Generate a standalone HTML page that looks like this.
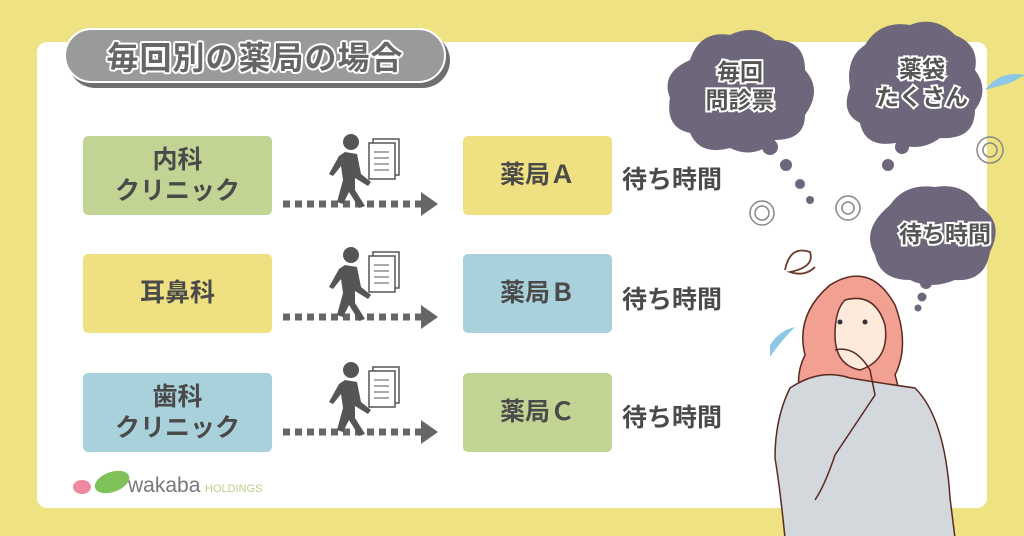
<!DOCTYPE html>
<html><head><meta charset="utf-8"><style>
*{margin:0;padding:0;box-sizing:border-box}
body{width:1024px;height:536px;background:#eee282;position:relative;overflow:hidden;font-family:"Liberation Sans","Noto Sans CJK JP",sans-serif}
.panel{position:absolute;left:37px;top:42px;width:950px;height:466px;background:#fff;border-radius:10px}
.box{position:absolute;border-radius:5px;display:flex;align-items:center;justify-content:center;text-align:center;font-weight:bold;color:#4a4a4a;font-size:25px;line-height:31px}
.g{background:#c2d494}.y{background:#efe182}.b{background:#a9d1dc}
.wt{position:absolute;left:622px;font-size:25px;font-weight:bold;color:#4a4a4a}
.title{position:absolute;left:64px;top:28px;width:382px;height:55px;background:#9a9a9a;border:2px solid #fff;border-radius:28px;box-shadow:4px 5px 0 #6f6f6f;display:flex;align-items:center;justify-content:center;font-size:32px;font-weight:bold;color:#666;letter-spacing:1px;text-shadow:2px 0 #fff,-2px 0 #fff,0 2px #fff,0 -2px #fff,1.5px 1.5px #fff,-1.5px -1.5px #fff,1.5px -1.5px #fff,-1.5px 1.5px #fff}
.ct{font-weight:bold;fill:#555;stroke:#fff;stroke-width:4;paint-order:stroke;font-family:"Liberation Sans","Noto Sans CJK JP",sans-serif}
</style></head><body>
<div class="panel"></div>
<div class="title">毎回別の薬局の場合</div>

<div class="box g" style="left:83px;top:136px;width:189px;height:79px">内科<br>クリニック</div>
<div class="box y" style="left:83px;top:254px;width:189px;height:79px">耳鼻科</div>
<div class="box b" style="left:83px;top:373px;width:189px;height:79px">歯科<br>クリニック</div>
<div class="box y" style="left:463px;top:136px;width:149px;height:79px">薬局Ａ</div>
<div class="box b" style="left:463px;top:254px;width:149px;height:79px">薬局Ｂ</div>
<div class="box g" style="left:463px;top:373px;width:149px;height:79px">薬局Ｃ</div>
<div class="wt" style="top:160px">待ち時間</div>
<div class="wt" style="top:280px">待ち時間</div>
<div class="wt" style="top:398px">待ち時間</div>

<svg width="1024" height="536" style="position:absolute;left:0;top:0">
<defs>
<g id="walk">
 <line x1="0" y1="0" x2="138" y2="0" stroke="#666" stroke-width="7" stroke-dasharray="7 5"/>
 <polygon points="138,-12 155,0 138,12" fill="#666"/>
 <circle cx="68" cy="-62" r="8" fill="#555"/>
 <path d="M62,-52 L74,-50 L78,-30 L88,-22 L85,-18 L72,-26 L72,-14 L82,2 L76,4 L66,-12 L60,0 L54,-2 L60,-24 L58,-38 L50,-28 L46,-30 L56,-48Z" fill="#555"/>
 <rect x="90" y="-65" width="26" height="36" fill="#fff" stroke="#555" stroke-width="1.5"/>
 <rect x="86" y="-61" width="26" height="36" fill="#fff" stroke="#555" stroke-width="1.5"/>
 <line x1="91" y1="-52" x2="106" y2="-52" stroke="#555"/><line x1="91" y1="-46" x2="106" y2="-46" stroke="#555"/><line x1="91" y1="-40" x2="106" y2="-40" stroke="#555"/><line x1="91" y1="-34" x2="106" y2="-34" stroke="#555"/>
</g>
</defs>
<use href="#walk" x="283" y="204"/>
<use href="#walk" x="283" y="317"/>
<use href="#walk" x="283" y="432"/>

<g fill="#6e667a">
 <path d="M690,60 q10,-30 40,-25 q25,-12 45,5 q30,0 30,30 q18,20 0,45 q0,25 -30,25 q-20,20 -45,8 q-30,8 -40,-15 q-25,-5 -20,-35 q-10,-25 20,-38z"/>
 <path d="M865,45 q15,-25 45,-20 q25,-10 45,10 q25,10 20,35 q15,20 0,40 q0,30 -35,28 q-20,15 -45,5 q-30,5 -35,-20 q-20,-10 -10,-35 q-5,-30 15,-43z"/>
 <path d="M890,205 q15,-22 45,-18 q30,-5 45,20 q25,15 10,45 q-5,30 -35,28 q-25,10 -45,0 q-30,0 -35,-25 q-15,-25 15,-50z"/>
 <circle cx="770" cy="147" r="8"/><circle cx="786" cy="165" r="6"/><circle cx="800" cy="184" r="5"/><circle cx="810" cy="200" r="4"/>
 <circle cx="902" cy="147" r="7"/><circle cx="888" cy="165" r="6"/>
 <circle cx="926" cy="283" r="6"/><circle cx="922" cy="297" r="4.5"/><circle cx="918" cy="308" r="3.5"/>
</g>
<text class="ct" x="740" y="80" font-size="23" text-anchor="middle">毎回</text>
<text class="ct" x="740" y="108" font-size="23" text-anchor="middle">問診票</text>
<text class="ct" x="922" y="77" font-size="23" text-anchor="middle">薬袋</text>
<text class="ct" x="922" y="105" font-size="23" text-anchor="middle">たくさん</text>
<text class="ct" x="945" y="242" font-size="23" text-anchor="middle">待ち時間</text>
<g fill="none" stroke="#888" stroke-width="1.5">
 <circle cx="762" cy="213" r="12"/><circle cx="762" cy="213" r="7"/>
 <circle cx="848" cy="208" r="12"/><circle cx="848" cy="208" r="6"/>
 <circle cx="990" cy="150" r="13"/><circle cx="990" cy="150" r="7"/>
</g>
<path d="M785,270 q5,-25 25,-18 q5,15 -20,20 q15,5 25,-5" fill="none" stroke="#6a3a2a" stroke-width="1.8"/>
<path d="M985,90 q15,-20 40,-15 l-15,8z M770,345 q10,-15 25,-18 q-15,15 -25,30z" fill="#8cc8e6"/>
<path d="M830,285 q40,-25 65,20 q15,40 0,70 q10,30 -10,40 l-75,0 q-20,-30 -5,-60 q-10,-40 25,-70z" fill="#f2a092" stroke="#5a2a20" stroke-width="1.5"/>
<path d="M845,300 q30,-8 40,25 q5,35 -25,45 q-25,-5 -25,-35 q0,-25 10,-35z" fill="#fdeadb" stroke="#5a2a20" stroke-width="1.5"/>
<circle cx="840" cy="322" r="2.5" fill="#333"/><circle cx="865" cy="322" r="2.5" fill="#333"/>
<path d="M790,388 q30,-20 60,-10 q30,5 65,10 q30,30 35,110 l5,40 l-170,0 q-5,-50 -10,-80 q0,-40 15,-70z" fill="#d3d8dc" stroke="#5a2a20" stroke-width="1.5"/>
<path d="M835,350 q20,-5 35,20 l5,25 q-20,30 -40,60 q-10,30 -20,45" fill="none" stroke="#5a2a20" stroke-width="1.5"/>
<ellipse cx="82" cy="487" rx="9" ry="7" fill="#ee8aa0"/>
<ellipse cx="112" cy="482" rx="18" ry="10" fill="#7fc25a" transform="rotate(-20 112 482)"/>
<text x="128" y="492" font-size="21" fill="#777" font-family="Liberation Sans,sans-serif">wakaba</text>
<text x="205" y="492" font-size="11" fill="#b8d08a" font-family="Liberation Sans,sans-serif">HOLDINGS</text>
</svg>
</body></html>
